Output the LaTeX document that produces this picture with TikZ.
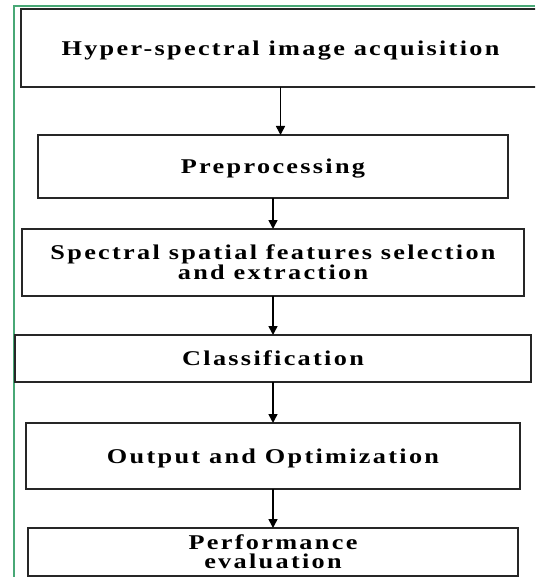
\documentclass[tikz,border=0pt]{standalone}
\usepackage{fontspec}
\setmainfont{Liberation Serif}
\newfontfamily\stagefont{Liberation Serif Bold}[FakeStretch=1.25, LetterSpace=11]
\usetikzlibrary{arrows.meta, positioning}
\definecolor{framegreen}{RGB}{72,168,118}

\begin{document}
\begin{tikzpicture}[x=1pt, y=1pt,
    >={Triangle[width=9pt,length=9pt]},
    node distance=40pt,
    stagebox/.style={
        draw=black!85,
        line width=1.6pt,
        outer sep=0pt,
        minimum height=48pt,
        inner sep=2pt,
        text depth=0pt,
        align=center,
        font=\stagefont\fontsize{21}{19}\selectfont
    },
    flow/.style={
        ->,
        line width=1.6pt
    },
    frame/.style={
        draw=framegreen,
        line width=1.4pt
    }
]

\useasboundingbox (0,0) rectangle (535,-577);
\clip (0,0) rectangle (535,-577);

% =====================
% Outer frame
% =====================

\draw[frame] (14,-577) |- (535,-6);

% =====================
% Pipeline stages
% =====================

\node[stagebox, minimum width=519pt, minimum height=78pt] (acq) at (280.5,-48) {Hyper-spectral image acquisition};

\node[stagebox, below=48pt of acq, xshift=-7.5pt, minimum width=470pt, minimum height=63pt] (prep) {Preprocessing};

\node[stagebox, below=31pt of prep, minimum width=502pt, minimum height=67pt] (feat) {
    Spectral spatial features selection\\
    and extraction
};

\node[stagebox, below=39pt of feat, minimum width=516pt, minimum height=47pt] (cls) {Classification};

\node[stagebox, below=41pt of cls, minimum width=494pt, minimum height=66pt] (opt) {Output and Optimization};

\node[stagebox, below=39pt of opt, minimum width=490pt, minimum height=48pt] (perf) {
    Performance\\
    evaluation
};

% =====================
% Arrows
% =====================

\draw[flow] (acq.south) -- (acq.south |- prep.north);
\draw[flow] (prep) -- (feat);
\draw[flow] (feat) -- (cls);
\draw[flow] (cls) -- (opt);
\draw[flow] (opt) -- (perf);

\end{tikzpicture}
\end{document}
